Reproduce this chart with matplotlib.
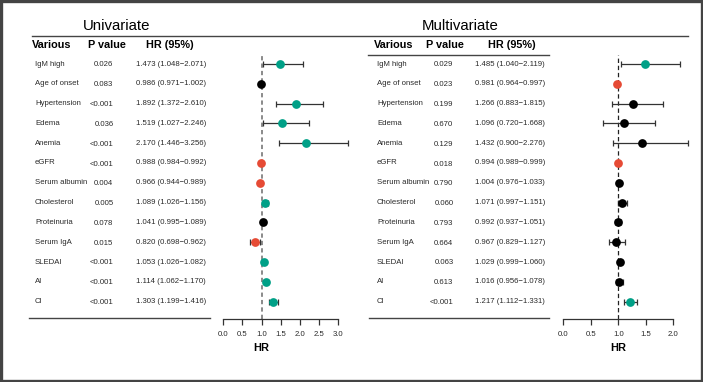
import matplotlib
matplotlib.use("Agg")
import matplotlib.pyplot as plt
from matplotlib.patches import Rectangle
from matplotlib.lines import Line2D

plt.rcParams['font.family'] = ['Liberation Sans', 'DejaVu Sans']

variables = ["IgM high", "Age of onset", "Hypertension", "Edema", "Anemia", "eGFR",
             "Serum albumin", "Cholesterol", "Proteinuria", "Serum IgA", "SLEDAI", "AI", "CI"]

uni_p = ["0.026", "0.083", "<0.001", "0.036", "<0.001", "<0.001", "0.004", "0.005",
         "0.078", "0.015", "<0.001", "<0.001", "<0.001"]
uni_hr = [1.473, 0.986, 1.892, 1.519, 2.170, 0.988, 0.966, 1.089, 1.041, 0.820, 1.053, 1.114, 1.303]
uni_lo = [1.048, 0.971, 1.372, 1.027, 1.446, 0.984, 0.944, 1.026, 0.995, 0.698, 1.026, 1.062, 1.199]
uni_hi = [2.071, 1.002, 2.610, 2.246, 3.256, 0.992, 0.989, 1.156, 1.089, 0.962, 1.082, 1.170, 1.416]

multi_p = ["0.029", "0.023", "0.199", "0.670", "0.129", "0.018", "0.790", "0.060",
           "0.793", "0.664", "0.063", "0.613", "<0.001"]
multi_hr = [1.485, 0.981, 1.266, 1.096, 1.432, 0.994, 1.004, 1.071, 0.992, 0.967, 1.029, 1.016, 1.217]
multi_lo = [1.040, 0.964, 0.883, 0.720, 0.900, 0.989, 0.976, 0.997, 0.937, 0.829, 0.999, 0.956, 1.112]
multi_hi = [2.119, 0.997, 1.815, 1.668, 2.276, 0.999, 1.033, 1.151, 1.051, 1.127, 1.060, 1.078, 1.331]

uni_ticks = [0.0, 0.5, 1.0, 1.5, 2.0, 2.5, 3.0]
multi_ticks = [0.0, 0.5, 1.0, 1.5, 2.0]

TEAL = "#00A087"
RED = "#E64B35"
TXT = "#2a2a2a"

W, H = 703, 382
fig = plt.figure(figsize=(W / 100, H / 100), dpi=100)

# full-figure overlay axes in pixel coordinates for the table
tax = fig.add_axes([0, 0, 1, 1])
tax.set_xlim(0, W)
tax.set_ylim(H, 0)
tax.axis("off")

ROW0, DY = 64.0, 19.8


def pval_num(s):
    return 0.0005 if s.startswith("<") else float(s)


def point_color(p, hr):
    if pval_num(p) >= 0.05:
        return "black"
    return TEAL if hr > 1 else RED


def panel(title, tx, x_var, x_p, x_hr, x_head_p, x_head_hr, pvals, hr, lo, hi,
          ax_x0, ax_x1, ticks, bottom_line, header_line, ref_style):
    tax.text(tx, 26, title, fontsize=10.8, ha="center", va="center", color="black")
    tax.text(x_var - 1, 45, "Various", fontsize=7.8, fontweight="bold", ha="left", va="center")
    tax.text(x_head_p, 45, "P value", fontsize=7.8, fontweight="bold", ha="center", va="center")
    tax.text(x_head_hr, 45, "HR (95%)", fontsize=7.8, fontweight="bold", ha="center", va="center")
    for i, name in enumerate(variables):
        y = ROW0 + i * DY
        tax.text(x_var + 2, y, name, fontsize=5.6, ha="left", va="center", color=TXT)
        tax.text(x_p, y + 1, pvals[i], fontsize=5.6, ha="right", va="center", color=TXT)
        tax.text(x_hr, y, f"{hr[i]:.3f} ({lo[i]:.3f}\u2212{hi[i]:.3f})", fontsize=5.6,
                 ha="left", va="center", color=TXT)
    tax.add_line(Line2D(bottom_line[:2], [bottom_line[2]] * 2, color="#444444", lw=1.0))
    if header_line is not None:
        tax.add_line(Line2D(header_line[:2], [header_line[2]] * 2, color="#444444", lw=1.0))

    # forest axes
    y_top, y_bot = 55.0, 319.0
    ax = fig.add_axes([ax_x0 / W, 1 - y_bot / H, (ax_x1 - ax_x0) / W, (y_bot - y_top) / H])
    ax.set_facecolor("none")
    ax.set_xlim(ticks[0], ticks[-1])
    ax.set_ylim((y_bot - ROW0) / DY, (y_top - ROW0) / DY)
    for s in ["top", "right", "left"]:
        ax.spines[s].set_visible(False)
    ax.spines["bottom"].set_color("#333333")
    ax.spines["bottom"].set_linewidth(0.9)
    ax.set_yticks([])
    ax.set_xticks(ticks)
    ax.set_xticklabels([f"{t:.1f}" for t in ticks])
    ax.tick_params(axis="x", direction="out", length=4.3, width=0.9, color="#333333",
                   labelsize=5.6, labelcolor=TXT, pad=4.5)
    ax.axvline(1.0, **ref_style, zorder=1)
    for i in range(len(variables)):
        c = point_color(pvals[i], hr[i])
        ax.errorbar([hr[i]], [i], xerr=[[hr[i] - lo[i]], [hi[i] - hr[i]]], fmt="none",
                    ecolor="#333333", elinewidth=0.9, capsize=2.0, capthick=0.9,
                    clip_on=False, zorder=2)
        ax.plot([hr[i]], [i], "o", color=c, markersize=6.3, markeredgewidth=0,
                clip_on=False, zorder=3)
    ax.text(1.0, -0.09, "HR", transform=ax.get_xaxis_transform(), fontsize=8,
            fontweight="bold", ha="center", va="top")
    return ax


panel("Univariate", 117, 33, 113.5, 136, 106.5, 170, uni_p, uni_hr, uni_lo, uni_hi,
      223.3, 338.3, uni_ticks, (29, 210, 318), None,
      dict(color="#8a8a8a", lw=1.4, linestyle=(0, (2.2, 1.6))))
panel("Multivariate", 460, 375, 453.5, 475, 445, 512, multi_p, multi_hr, multi_lo, multi_hi,
      563.3, 673.3, multi_ticks, (369, 549, 318), (368, 549, 54.5),
      dict(color="#222222", lw=0.9, linestyle=(0, (3.5, 2.2))))

# top rule across both panels
tax.add_line(Line2D([32, 688], [35.5, 35.5], color="#444444", lw=1.0))

# outer frame
tax.add_patch(Rectangle((1.2, 1.2), W - 2.4, H - 2.4, fill=False, edgecolor="#444444", lw=2.4))

fig.savefig("out.png", dpi=100)
